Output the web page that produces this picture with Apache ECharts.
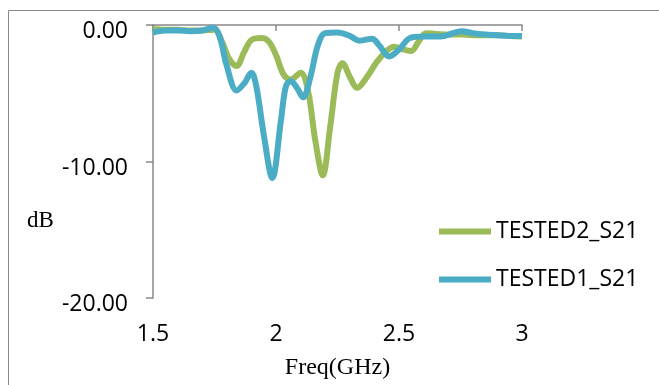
<!DOCTYPE html>
<html><head><meta charset="utf-8">
<script src="https://cdn.jsdelivr.net/npm/echarts@6/dist/echarts.min.js"></script>
<style>html,body{margin:0;padding:0;background:#fff}#c{width:659px;height:385px}</style>
</head><body><div id="c"></div>
<script>
var seriesNames = ['TESTED2_S21', 'TESTED1_S21'];
var xTicks = [1.5, 2, 2.5, 3];
var yTicks = [0, -10, -20];

var tested2Freq = [1.50,1.55,1.60,1.65,1.70,1.75,1.78,1.81,1.84,1.87,1.90,1.94,1.97,2.00,2.03,2.06,2.10,2.13,2.16,2.19,2.22,2.25,2.27,2.30,2.33,2.37,2.41,2.45,2.48,2.52,2.55,2.58,2.61,2.65,2.70,2.76,2.82,2.90,2.95,3.00];
var tested2dB   = [-0.3,-0.35,-0.35,-0.4,-0.4,-0.35,-1.2,-2.5,-3.0,-2.0,-1.1,-0.95,-1.2,-2.2,-3.6,-4.0,-3.5,-4.8,-8.5,-11.0,-7.5,-3.5,-2.8,-3.8,-4.6,-3.8,-2.7,-1.9,-1.6,-1.8,-1.9,-1.2,-0.6,-0.65,-0.7,-0.7,-0.75,-0.75,-0.8,-0.85];

var tested1Freq = [1.50,1.55,1.60,1.65,1.70,1.745,1.77,1.80,1.84,1.87,1.90,1.92,1.95,1.985,2.02,2.04,2.06,2.085,2.11,2.14,2.17,2.20,2.25,2.30,2.34,2.39,2.42,2.46,2.50,2.545,2.60,2.67,2.72,2.756,2.80,2.85,2.90,2.95,3.00];
var tested1dB   = [-0.55,-0.4,-0.4,-0.45,-0.4,-0.2,-0.8,-3.0,-4.8,-4.3,-3.5,-4.5,-8.0,-11.2,-7.0,-4.5,-4.1,-4.6,-5.3,-3.8,-1.5,-0.6,-0.55,-0.8,-1.15,-1.0,-1.5,-2.3,-1.8,-0.95,-0.85,-0.85,-0.6,-0.45,-0.6,-0.7,-0.75,-0.8,-0.8];

function pairs(xs, ys){ return xs.map(function(x,i){ return [x, ys[i]]; }); }

var chart = echarts.init(document.getElementById('c'), null, {renderer:'canvas'});
var axisGray = '#898989';
chart.setOption({
  animation: false,
  backgroundColor: '#fff',
  graphic: [
    {type:'rect', shape:{x:8.5, y:10.5, width:700, height:400}, style:{fill:'none', stroke:axisGray, lineWidth:1}, silent:true},
    {type:'text', left:27, top:209, style:{text:'dB', font:'23px "Liberation Serif"', fill:'#000'}}
  ],
  grid: {left:153, top:25, width:369, height:276, containLabel:false},
  legend: {
    data: seriesNames,
    orient: 'vertical',
    left: 434, top: 215,
    itemWidth: 52, itemHeight: 6,
    itemGap: 25,
    icon: 'rect',
    textStyle: {fontFamily:'Open Sans', fontSize:23, color:'#000', padding:[0,0,0,0]}
  },
  xAxis: {
    type:'value', min:1.5, max:3, interval:0.5,
    name:'Freq(GHz)', nameLocation:'middle', nameGap:58,
    nameTextStyle:{fontFamily:'Liberation Serif', fontSize:24, color:'#000'},
    axisLine:{show:true, lineStyle:{color:axisGray, width:1.5}},
    axisTick:{show:true, inside:false, length:6, lineStyle:{color:axisGray, width:1.5}},
    axisLabel:{margin:25, fontFamily:'Open Sans', fontSize:23, color:'#000',
      formatter:function(v){ return xTicks.indexOf(v) >= 0 ? String(v) : ''; }},
    splitLine:{show:false}
  },
  yAxis: {
    type:'value', min:-20, max:0, interval:10,
    axisLine:{show:true, onZero:false, lineStyle:{color:axisGray, width:1.5}},
    axisTick:{show:true, inside:false, length:7, lineStyle:{color:axisGray, width:1.5}},
    axisLabel:{margin:25, fontFamily:'Open Sans', fontSize:23, color:'#000', verticalAlign:'top', lineHeight:13,
      formatter:function(v){ return yTicks.indexOf(v) >= 0 ? v.toFixed(2) : ''; }},
    splitLine:{show:false}
  },
  series: [
    {name:seriesNames[0], type:'line', data:pairs(tested2Freq, tested2dB), smooth:0.35, showSymbol:false,
     lineStyle:{color:'#9BBB59', width:6}, itemStyle:{color:'#9BBB59'}},
    {name:seriesNames[1], type:'line', data:pairs(tested1Freq, tested1dB), smooth:0.35, showSymbol:false,
     lineStyle:{color:'#4BACC6', width:6}, itemStyle:{color:'#4BACC6'}}
  ]
});
</script></body></html>
